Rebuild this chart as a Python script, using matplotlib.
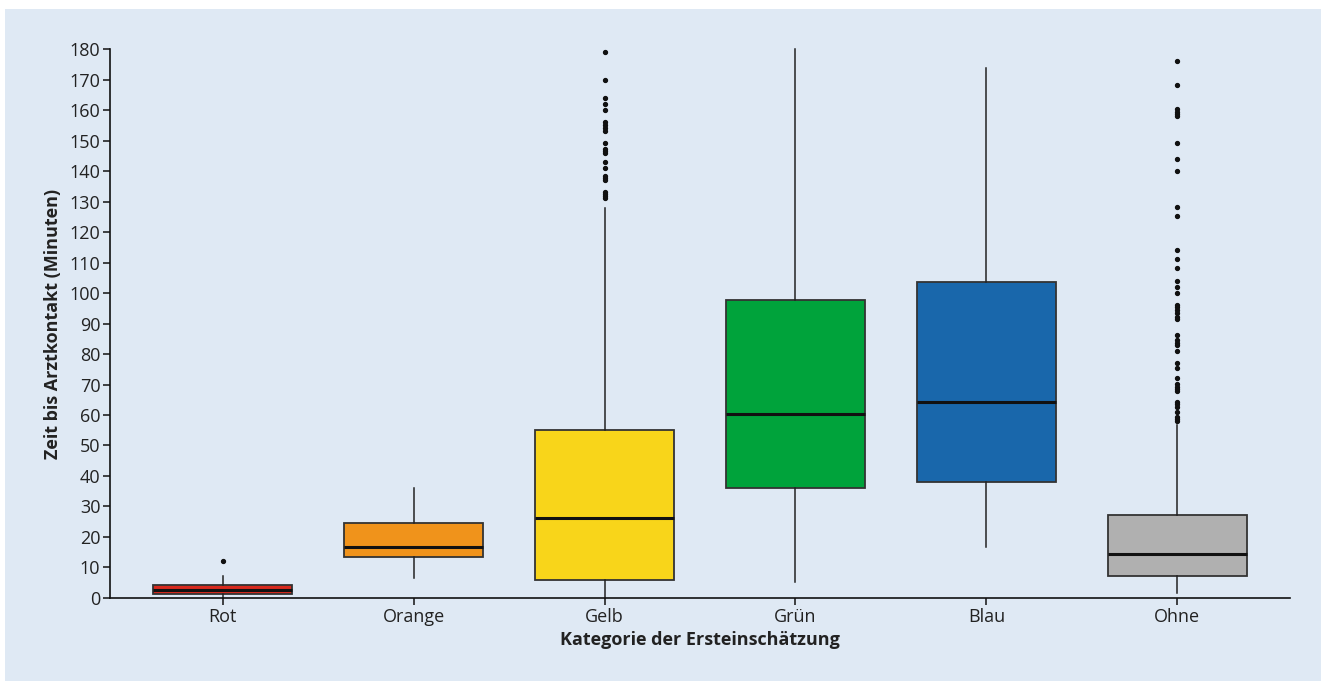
import matplotlib.pyplot as plt
from matplotlib.patches import Rectangle


categories = ["Rot", "Orange", "Gelb", "Grün", "Blau", "Ohne"]
box_colors = ["#d8291d", "#f0931b", "#f8d51a", "#00a33b", "#1967ab", "#b0b0b0"]

q1 = [1.3, 13.4, 6.0, 36.0, 38.0, 7.2]
median = [2.6, 16.7, 26.3, 60.2, 64.3, 14.4]
q3 = [4.3, 24.6, 55.0, 97.7, 103.6, 27.2]
whisker_low = [0.0, 6.5, 0.0, 5.2, 16.7, 1.6]
whisker_high = [7.2, 36.0, 128.0, 180.0, 173.8, 56.7]

fliers = [
    [12.1],
    [],
    [179.0, 170.0, 163.9, 162.0, 160.0, 156.2, 155.1, 154.0, 153.1,
     149.1, 147.2, 146.7, 145.8, 143.0, 141.1, 138.4, 137.6, 137.0,
     133.0, 132.6, 131.9, 131.2],
    [],
    [],
    [176.0, 168.1, 160.2, 159.5, 158.7, 158.0, 149.1, 144.0, 140.1,
     128.1, 125.1, 114.1, 111.0, 108.1, 104.0, 102.1, 100.1, 96.1,
     95.3, 94.4, 93.5, 92.2, 91.4, 86.2, 84.6, 83.7, 83.0, 81.1,
     77.2, 75.3, 72.2, 70.2, 69.3, 68.5, 68.0, 64.4, 63.6, 62.7,
     61.1, 59.4, 58.7, 58.0],
]

yticks = list(range(0, 181, 10))

plt.rcParams["font.family"] = ["Open Sans", "DejaVu Sans"]

fig = plt.figure(figsize=(13.21, 6.81), dpi=100)
fig.patch.set_facecolor("white")

# light blue panel behind the chart
fig.patches.append(
    Rectangle(
        (5 / 1321, 0),
        1 - 5 / 1321,
        1 - 9 / 681,
        transform=fig.transFigure,
        facecolor="#dfe9f4",
        edgecolor="none",
        zorder=-10
    )
)

ax = fig.add_axes([0.0833, 0.1219, 0.8932, 0.8061])
ax.set_facecolor("none")
ax.set_zorder(1)

stats = []
for i in range(len(categories)):
    stats.append({
        "label": categories[i],
        "q1": q1[i],
        "med": median[i],
        "q3": q3[i],
        "whislo": whisker_low[i],
        "whishi": whisker_high[i],
        "fliers": fliers[i],
    })

bp = ax.bxp(
    stats,
    positions=range(len(categories)),
    widths=0.73,
    patch_artist=True,
    showcaps=False,
    boxprops=dict(edgecolor="#333333", linewidth=1.3),
    medianprops=dict(color="#111111", linewidth=2.2),
    whiskerprops=dict(color="#222222", linewidth=1.1),
    flierprops=dict(
        marker="o",
        markersize=2.8,
        markerfacecolor="#111111",
        markeredgecolor="#111111"
    ),
)

for patch, color in zip(bp["boxes"], box_colors):
    patch.set_facecolor(color)

for fl in bp["fliers"]:
    fl.set_clip_on(False)
for w in bp["whiskers"]:
    w.set_clip_on(False)

ax.set_xlim(-0.59, 5.59)
ax.set_ylim(0, 180)
ax.set_yticks(yticks)
ax.set_yticklabels([str(t) for t in yticks])

for side in ["top", "right"]:
    ax.spines[side].set_visible(False)
for side in ["left", "bottom"]:
    ax.spines[side].set_color("#111111")
    ax.spines[side].set_linewidth(1.2)

ax.tick_params(
    axis="both",
    direction="out",
    length=5,
    width=1.1,
    color="#111111",
    labelsize=13,
    labelcolor="#222222",
    pad=2
)

ax.set_xlabel(
    "Kategorie der Ersteinschätzung",
    fontsize=13,
    fontweight="bold",
    color="#222222",
    labelpad=4
)
ax.set_ylabel(
    "Zeit bis Arztkontakt (Minuten)",
    fontsize=13,
    fontweight="bold",
    color="#222222",
    labelpad=5
)

fig.savefig("out.png", dpi=100)
